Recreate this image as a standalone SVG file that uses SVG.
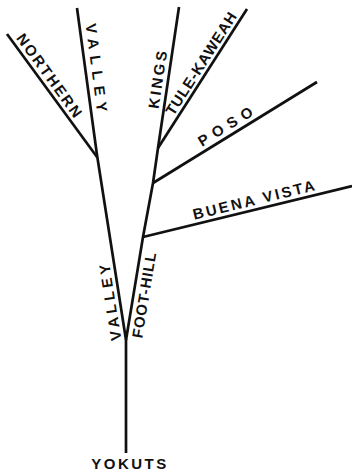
<svg xmlns="http://www.w3.org/2000/svg" width="352" height="472" viewBox="0 0 352 472">
<style>
.ln{fill:none;stroke:#111;stroke-width:2.7;stroke-linejoin:round;stroke-linecap:butt}
.lb{font-family:"Liberation Sans",Arial,sans-serif;font-weight:bold;font-size:15px;fill:#111;text-anchor:middle}
</style>
<rect width="352" height="472" fill="#fff"/>
<g id="connectors">
<polyline class="ln" points="126,453 126,340 97,155 77,8"/>
<polyline class="ln" points="126,340 143,237 153,183 158,148 179,7"/>
<line class="ln" x1="97" y1="157" x2="7" y2="34"/>
<line class="ln" x1="158" y1="148" x2="247" y2="9"/>
<line class="ln" x1="153" y1="183" x2="317" y2="82"/>
<line class="ln" x1="143" y1="237" x2="352" y2="186"/>
</g>
<g id="northern"><text class="lb" transform="translate(42,82) rotate(54)" y="-4.5" letter-spacing="2.1">NORTHERN</text></g>
<g id="valley-upper"><text class="lb" transform="translate(86.8,72) rotate(82.5)" y="-5" letter-spacing="6.2">VALLEY</text></g>
<g id="kings"><text class="lb" transform="translate(168,80) rotate(-81.5)" y="-5" letter-spacing="2.6">KINGS</text></g>
<g id="tule-kaweah"><text class="lb" transform="translate(209,68.3) rotate(-57.4)" y="-4" letter-spacing="0.8">TULE-KAWEAH</text></g>
<g id="poso"><text class="lb" transform="translate(233.2,133.6) rotate(-31.6)" y="-5" letter-spacing="5.9">POSO</text></g>
<g id="buena-vista"><text class="lb" transform="translate(257.2,209.1) rotate(-13.7)" y="-4.5" letter-spacing="2.5">BUENA VISTA</text></g>
<g id="valley-lower"><text class="lb" transform="translate(119.5,299) rotate(-99)" y="-4.5" letter-spacing="3.8">VALLEY</text></g>
<g id="foot-hill"><text class="lb" transform="translate(133,293) rotate(-80.6)" y="16.5" letter-spacing="0.9">FOOT-HILL</text></g>
<g id="yokuts"><text class="lb" x="130" y="469" font-size="13" letter-spacing="2.5">YOKUTS</text></g>
</svg>
